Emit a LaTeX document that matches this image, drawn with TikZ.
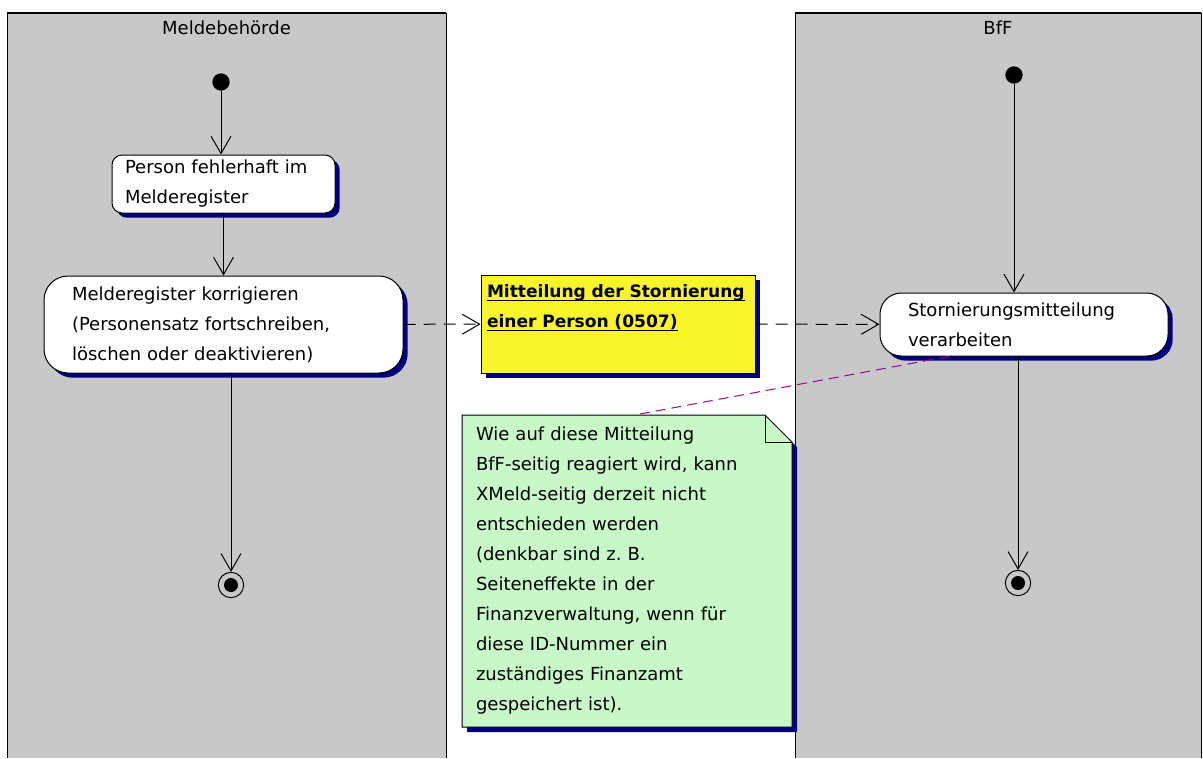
\documentclass[tikz,border=0pt]{standalone}
\usepackage{fontspec}
\setmainfont{DejaVu Sans}
\usetikzlibrary{arrows.meta,shadows,calc}

\definecolor{lanegray}{RGB}{200,200,200}
\definecolor{shadownavy}{RGB}{0,0,128}
\definecolor{msgyellow}{RGB}{248,244,44}
\definecolor{notegreen}{RGB}{200,247,200}
\definecolor{linkpurple}{RGB}{160,0,160}

% underline at a fixed depth
\newcommand{\ulmsg}[1]{\mbox{\setbox0\hbox{#1}\rlap{\usebox0}\rule[-3pt]{\wd0}{0.75pt}}}

\begin{document}
\begin{tikzpicture}[x=0.75pt, y=-0.75pt,
        every node/.style={font=\fontsize{13.5}{22.5}\selectfont},
        lane/.style={fill=lanegray, draw=black, line width=0.75pt},
        navyshadow/.style={drop shadow={shadow xshift=3.5pt, shadow yshift=-3.5pt, fill=shadownavy, opacity=1}},
        action/.style={draw, fill=white, line width=0.75pt, align=left, navyshadow},
        startstate/.style={circle, fill=black, minimum size=13pt, inner sep=0pt},
        endstate/.style={circle, draw, line width=0.75pt, minimum size=19pt, inner sep=0pt,
            path picture={\fill (path picture bounding box.center) circle (5.25pt);}},
        flow/.style={-{Straight Barb[length=13pt, width=15pt]}, line width=0.75pt},
        dataflow/.style={flow, dash pattern=on 9pt off 6pt}]
    \useasboundingbox (0,0) rectangle (1203,758);

    % swimlanes
    \foreach \l/\r/\title [count=\i] in {7/446/Meldebehörde, 795/1201/BfF}{
        \draw[lane] (\l,758) |- (\r,13) -- (\r,758);
        \draw[line width=1.5pt] (\l,13) -- (\r,13);
        \node (lane\i) at ({(\l+\r)/2},28) {\title};
    }

    % Meldebehoerde
    \node[startstate] (start1) at (221,82) {};
    \node[action, rounded corners=7.5pt, text width=147.75pt, inner xsep=9.75pt, minimum height=43.5pt]
        (act1) at (223.5,184) {Person fehlerhaft im\\Melderegister};
    \node[action, rounded corners=18pt, text width=227.25pt, inner xsep=21pt, minimum height=72.75pt]
        (act2) at (223.5,324.5) {Melderegister korrigieren\\(Personensatz fortschreiben,\\löschen oder deaktivieren)};
    \node[endstate] (end1) at (231,585) {};

    % Nachricht
    \node[draw, fill=msgyellow, line width=0.75pt, navyshadow, align=left,
        text width=196.5pt, inner xsep=4.5pt, inner ysep=4pt, text height=12.5pt, text depth=53pt,
        font=\fontsize{12.8}{22.5}\selectfont\bfseries]
        (msg) at (618,324) {\ulmsg{Mitteilung der Stornierung}\\\ulmsg{einer Person (0507)}};

    % BfF
    \node[startstate] (start2) at (1014,75) {};
    \node[action, rounded corners=16pt, text width=174pt, inner xsep=21pt, minimum height=47.25pt]
        (act3) at (1024,324.5) {Stornierungsmitteilung\\verarbeiten};
    \node[endstate] (end2) at (1018,583) {};

    % Notiz mit Eselsohr
    \fill[shadownavy] (467,420) -- (770,420) -- (797,447) -- (797,732) -- (467,732) -- cycle;
    \draw[fill=notegreen, line width=0.75pt] (462,415) -- (765,415) -- (792,442) -- (792,727) -- (462,727) -- cycle;
    \draw[line width=0.75pt] (765,415) |- (792,442);
    \node[align=left, text width=226.5pt, inner xsep=10.5pt, minimum width=247.5pt, minimum height=234pt]
        (note) at (627,571) {Wie auf diese Mitteilung\\BfF-seitig reagiert wird, kann\\XMeld-seitig derzeit nicht\\entschieden werden\\(denkbar sind z.\ B.\\Seiteneffekte in der\\Finanzverwaltung, wenn für\\diese ID-Nummer ein\\zuständiges Finanzamt\\gespeichert ist).};

    % Kontrollfluss
    \draw[flow] (start1) -- (start1 |- act1.north);
    \draw[flow] (act1) -- (act2);
    \draw[flow] (act2.south -| end1) -- (end1);
    \draw[flow] (start2) -- (start2 |- act3.north);
    \draw[flow] (act3.south -| end2) -- (end2);

    % Objektfluss
    \draw[dataflow] (act2) -- (msg);
    \draw[dataflow] (msg) -- (act3);

    \draw[linkpurple, line width=0.75pt, dash pattern=on 7.5pt off 4.5pt] (act3.-157) -- ($(note.north)+(9,0)$);
\end{tikzpicture}
\end{document}
